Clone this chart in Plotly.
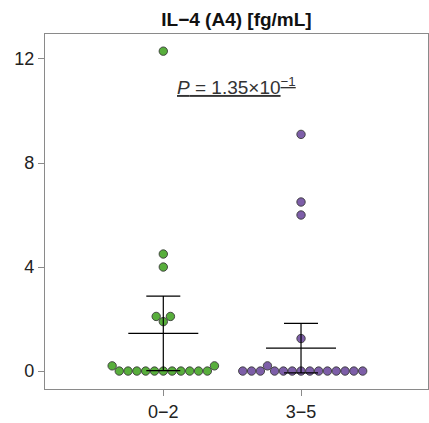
import math
import plotly.graph_objects as go

# ---------------- data ----------------
categories = ["0\u22122", "3\u22125"]
green_values = [0]*11 + [0.2, 0.2, 1.9, 2.1, 2.1, 4.0, 4.5, 12.3]
purple_values = [0]*7 + [0.2] + [0]*7 + [1.25, 6.0, 6.5, 9.1]
means = [1.45, 0.88]
errors = [1.43, 0.95]
y_ticks = [0, 4, 8, 12]
p_text = "<u><i>P</i> = 1.35\u00d710<sup>\u22121</sup></u>"
title_text = "<b>IL\u22124 (A4) [fg/mL]</b>"

# ---------------- layout constants ----------------
W, H = 429, 423
ML, MR, MT, MB = 45, 1, 34, 34
XR = [-0.859, 1.922]
YR = [-0.69, 12.96]
DIAM = 8.8
px_x = (W - ML - MR) / (XR[1] - XR[0])
px_y = (H - MT - MB) / (YR[1] - YR[0])
FONT = "Liberation Sans, Arial, Helvetica, sans-serif"

colors = ["#58AE3C", "#7D5EA8"]


def swarm(values):
    """Simple ordered beeswarm: returns pixel offsets."""
    placed = []  # (offset_px, y_px)
    out = []
    for v in values:
        y = v * px_y
        cands = [0.0]
        for (ox, oy) in placed:
            dy = abs(y - oy)
            if dy < DIAM:
                dx = math.sqrt(DIAM**2 - dy**2) + 0.01
                cands += [ox - dx, ox + dx]
        cands.sort(key=lambda c: (abs(round(c, 3)), c))
        for c in cands:
            ok = True
            for (ox, oy) in placed:
                if (c - ox)**2 + (y - oy)**2 < DIAM**2 - 1e-6:
                    ok = False
                    break
            if ok:
                placed.append((c, y))
                out.append(c)
                break
    return out


fig = go.Figure()
for i, vals in enumerate([green_values, purple_values]):
    offs = swarm(vals)
    fig.add_trace(go.Scatter(
        x=[i + o / px_x for o in offs], y=vals, mode="markers",
        marker=dict(size=8.4, color=colors[i], line=dict(color="#3a3a3a", width=0.9)),
        showlegend=False, hoverinfo="skip"))

half_mean = 35 / px_x
for i, (m, e) in enumerate(zip(means, errors)):
    fig.add_trace(go.Scatter(
        x=[i], y=[m], mode="markers", marker=dict(size=1, color="rgba(0,0,0,0)"),
        error_y=dict(type="data", array=[e], visible=True, color="black",
                     thickness=1.2, width=17),
        showlegend=False, hoverinfo="skip"))
    fig.add_trace(go.Scatter(
        x=[i - half_mean, i + half_mean], y=[m, m], mode="lines",
        line=dict(color="black", width=1.2), showlegend=False, hoverinfo="skip"))

fig.add_annotation(x=0.535, y=10.95, xref="x", yref="y", text=p_text, showarrow=False,
                   yanchor="middle",
                   font=dict(family=FONT, size=19, color="#333333"))

fig.update_layout(
    width=W, height=H,
    margin=dict(l=ML, r=MR, t=MT, b=MB, autoexpand=False),
    paper_bgcolor="white", plot_bgcolor="white",
    title=dict(text=title_text, x=(ML + (W - MR)) / 2 / W, xanchor="center",
               y=1 - 19 / H, yanchor="middle",
               font=dict(family=FONT, size=19, color="#111111")),
    font=dict(family=FONT, size=18, color="#222222"),
    xaxis=dict(range=XR, tickvals=[0, 1], ticktext=categories, showgrid=False,
               zeroline=False, showline=True, linecolor="#8a8a8a", linewidth=1.3,
               mirror=True, ticks="outside", ticklen=6, tickcolor="#8a8a8a",
               automargin=False),
    yaxis=dict(range=YR, tickvals=y_ticks, showgrid=False, zeroline=False,
               showline=True, linecolor="#8a8a8a", linewidth=1.3, mirror=True,
               ticks="outside", ticklen=6, tickcolor="#8a8a8a", automargin=False),
)

fig.write_html("out.html",
               config={"displayModeBar": False},
               post_script="document.body.style.margin='0';"
                           "document.body.style.overflow='hidden';")
